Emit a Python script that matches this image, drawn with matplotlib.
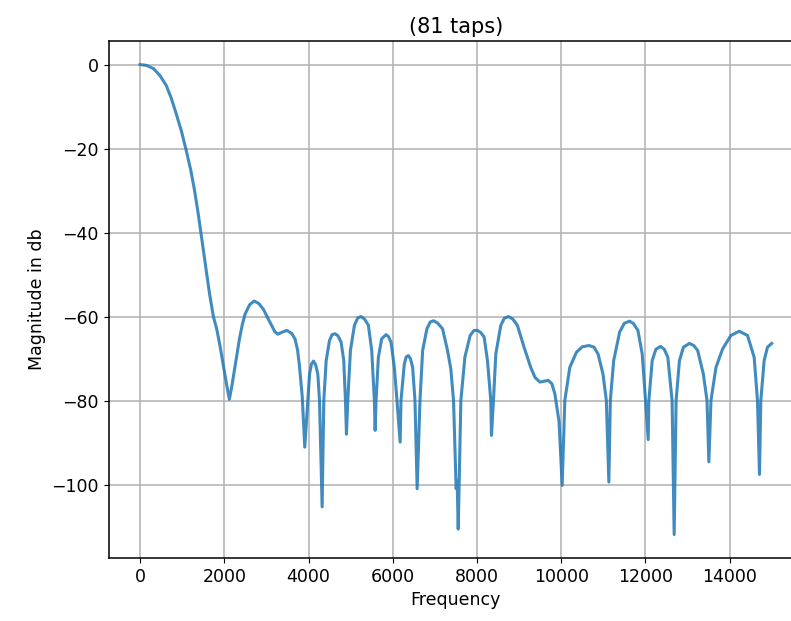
import matplotlib
matplotlib.use("Agg")
import matplotlib.pyplot as plt

# frequency response of the 81-tap filter
freq = [0, 150, 316, 470, 620, 740, 857, 980, 1094, 1200, 1292, 1380, 1450, 1543, 1645, 1740,
        1820, 1898, 1977, 2060, 2120, 2180, 2232, 2300, 2358, 2430, 2494, 2600, 2708, 2820,
        2930, 3030, 3128, 3200, 3270, 3380, 3484, 3600, 3681, 3740, 3784, 3850, 3911, 3984,
        4024, 4070, 4118, 4170, 4221, 4261, 4323, 4363, 4419, 4498, 4560, 4632, 4700, 4774,
        4837, 4877, 4901, 4932, 4995, 5090, 5170, 5248, 5330, 5422, 5501, 5564, 5582, 5604,
        5659, 5738, 5841, 5900, 5959, 6038, 6101, 6176, 6196, 6275, 6320, 6370, 6420, 6473,
        6528, 6580, 6647, 6710, 6812, 6890, 6970, 7060, 7183, 7302, 7380, 7444, 7506, 7530,
        7555, 7618, 7713, 7839, 7930, 8013, 8090, 8171, 8250, 8329, 8345, 8392, 8448, 8566,
        8650, 8748, 8850, 8961, 9119, 9277, 9380, 9495, 9600, 9692, 9780, 9850, 9950, 10024,
        10087, 10205, 10363, 10500, 10663, 10780, 10876, 10994, 11073, 11133, 11168, 11247,
        11389, 11500, 11625, 11720, 11823, 11925, 12004, 12067, 12083, 12162, 12250, 12359,
        12450, 12533, 12635, 12684, 12730, 12809, 12904, 13046, 13150, 13243, 13377, 13464,
        13508, 13558, 13677, 13835, 14032, 14229, 14426, 14584, 14663, 14710, 14742, 14821,
        14900, 15000]
mag_db = [0, -0.2, -0.95, -2.6, -4.95, -8.0, -11.7, -15.8, -20.4, -25.0, -29.9, -35.5, -40.5,
          -47.2, -54.3, -60.0, -63.0, -67.0, -71.7, -76.5, -79.7, -76.5, -73.3, -69.0, -65.4,
          -61.8, -59.4, -57.2, -56.3, -56.9, -58.3, -60.3, -62.2, -63.6, -64.2, -63.7, -63.3,
          -64.0, -65.4, -68.0, -71.7, -79.0, -91.1, -80.0, -73.7, -71.3, -70.6, -71.5, -73.7,
          -80.0, -105.3, -80.0, -70.5, -65.7, -64.3, -64.1, -64.6, -66.1, -70.5, -80.0, -88.0,
          -80.0, -68.1, -62.1, -60.3, -60.0, -60.6, -62.1, -68.1, -80.0, -87.1, -80.0, -69.7,
          -65.3, -64.3, -64.8, -66.1, -72.1, -80.0, -89.9, -80.0, -71.3, -69.6, -69.3, -70.0,
          -72.1, -80.0, -101.0, -80.0, -68.1, -62.9, -61.3, -61.0, -61.5, -62.9, -68.1, -72.5,
          -80.0, -101.0, -99.0, -110.6, -80.0, -69.7, -64.5, -63.3, -63.3, -63.8, -64.9, -70.5,
          -80.0, -88.3, -80.0, -68.9, -62.1, -60.4, -60.0, -60.6, -62.1, -67.3, -72.1, -74.5,
          -75.6, -75.4, -75.2, -76.0, -78.4, -85.0, -100.2, -80.0, -72.1, -68.5, -67.2, -66.9,
          -67.3, -68.9, -73.7, -80.0, -99.4, -80.0, -70.5, -63.7, -61.6, -61.1, -61.7, -63.3,
          -68.9, -80.0, -89.3, -80.0, -70.5, -67.8, -67.1, -67.8, -69.7, -80.0, -111.9, -80.0,
          -70.5, -67.3, -66.4, -66.9, -68.1, -73.7, -80.0, -94.6, -80.0, -72.1, -67.7, -64.5,
          -63.5, -64.5, -69.7, -80.0, -97.6, -80.0, -70.5, -67.3, -66.4]
x_ticks = [0, 2000, 4000, 6000, 8000, 10000, 12000, 14000]
y_ticks = [0, -20, -40, -60, -80, -100]

fig = plt.figure(figsize=(7.91, 6.21), dpi=100)
# the reference is cropped on the right, so the axes run past the figure edge
ax = fig.add_axes([0.1372, 0.1014, 0.8783, 0.8325])
ax.plot(freq, mag_db, color="#1f77b4", lw=2.2, alpha=0.85)
ax.set_xticks(x_ticks)
ax.set_yticks(y_ticks)
ax.tick_params(labelsize=12.5)
ax.grid(True, color="#b0b0b0", lw=1.1)
ax.set_xlabel("Frequency", fontsize=12.5)
ax.set_ylabel("Magnitude in db", fontsize=12.5)
ax.set_title("(81 taps)", fontsize=15)
for s in ax.spines.values():
    s.set_linewidth(1.1)

fig.savefig("out.png", dpi=100)
